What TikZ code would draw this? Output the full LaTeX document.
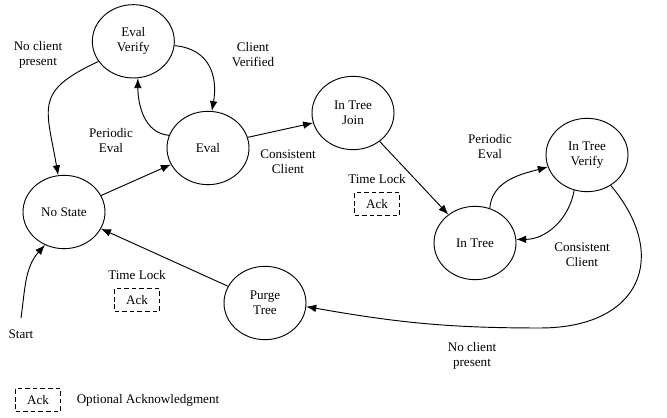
\documentclass[tikz,border=0pt]{standalone}
\usepackage{fontspec}
\setmainfont{Liberation Serif}
\usetikzlibrary{arrows.meta,positioning,shapes.geometric}
\tikzset{%
	state/.style = {draw, ellipse, line width=0.8pt, minimum width=2.46cm, minimum height=2.2cm, inner sep=0pt, align=center}, % State
	ack/.style   = {draw, dash pattern=on 4pt off 2.5pt, rectangle, line width=0.7pt, minimum width=1.35cm, minimum height=0.7cm}, % Optional ack
	note/.style  = {align=center}, % Edge text
	arrow/.style = {line width=0.8pt, -{Latex[length=8.5pt,width=6.5pt]}},
}
\begin{document}
\begin{tikzpicture}[font=\fontsize{11.2}{12.8}\selectfont]
		\useasboundingbox (0,0) rectangle (20.01,12.54);
		\node [state] (EV) at (4.0,11.3) {Eval\\Verify};
		\node [state] (E) at (6.24,8.1) {Eval};
		\node [state] (NS) at (1.92,6.18) {No State};
		\node [state] (J) at (10.59,9.15) {In Tree\\Join};
		\node [state] (T) at (14.25,5.25) {In Tree};
		\node [state] (TV) at (17.61,7.89) {In Tree\\Verify};
		\node [state] (P) at (7.95,3.45) {Purge\\Tree};
		\coordinate (S0) at (0.63,3.0);
		\node (Start) [below of=S0,node distance=0.5cm] {Start};
		\coordinate (B) at (16.2,2.7);
		
		\draw[arrow] (EV.210) to[out=205,in=100,looseness=1.5] (NS.99);
		\draw[arrow] (NS) -- (E);
		\draw[arrow] (E.162) to[out=175,in=-90] (EV.277);
		\draw[arrow] (EV.-6) to[out=-5,in=80,looseness=1.2] (E.84);
		\draw[arrow] (E.15) -- (J.194);
		\draw[arrow] (J) -- (T);
		\draw[arrow] (T.67) to[out=85,in=195] (TV.197);
		\draw[arrow] (TV.250) to[out=260,in=0] (T.5);
		\draw[arrow] (TV.308) .. controls +(-50:2.8cm) and +(0:3cm) .. (B) to[out=180,in=-10] (P.-5);
		\draw[arrow] (P) -- (NS);
		\draw[arrow] (S0) to[out=82,in=228] (NS.240);
		
		\node[note] at (1.14,10.9) {No client\\present};
		\node[note] at (7.59,10.9) {Client\\Verified};
		\node[note] at (3.33,8.33) {Periodic\\Eval};
		\node[note] at (8.64,7.7) {Consistent\\Client};
		\node[note] (TL1) at (11.31,7.17) {Time Lock};
		\node[ack] (A1) [below of=TL1,node distance=0.75cm] {Ack};
		\node[note] at (14.7,8.15) {Periodic\\Eval};
		\node[note] at (17.46,4.89) {Consistent\\Client};
		\node[note] (TL2) at (4.11,4.29) {Time Lock};
		\node[ack] (A2) [below of=TL2,node distance=0.75cm] {Ack};
		\node[note] at (14.16,1.875) {No client\\present};
		
		\node[ack] (L) at (1.14,0.54) {Ack};
		\node[note] [right of=L,node distance=3.3cm] {Optional Acknowledgment};
		\end{tikzpicture}
\end{document}
